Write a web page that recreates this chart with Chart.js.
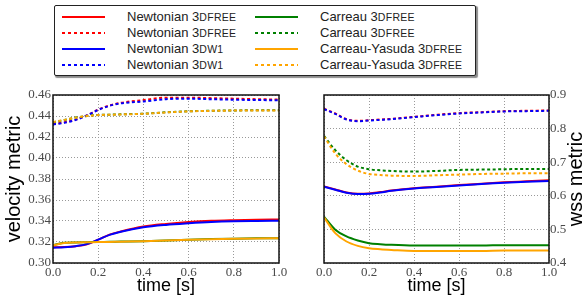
<!DOCTYPE html>
<html>
<head>
<meta charset="utf-8">
<script src="https://cdn.jsdelivr.net/npm/chart.js@4"></script>
<style>
  body { margin: 0; background: #fff; width: 582px; height: 300px; overflow: hidden; position: relative; font-family: "Liberation Sans", Arial, sans-serif; }
  #legend { position: absolute; left: 54px; top: 5px; width: 420px; height: 69px; border: 1.5px solid #222; border-radius: 2px; box-shadow: 1.5px 1.5px 1px rgba(0,0,0,0.45); background: #fff; }
  .item { position: absolute; font-size: 13px; color: #222; line-height: 16px; white-space: nowrap; }
  .swatch { position: absolute; height: 2px; width: 43px; }
  .sc { font-size: 10.5px; letter-spacing: 0.3px; }
  canvas { position: absolute; }
</style>
</head>
<body>
<div id="legend"></div>
<canvas id="velChart" width="290" height="215" style="left:0;top:85px"></canvas>
<canvas id="wssChart" width="290" height="215" style="left:292px;top:85px"></canvas>
<script>
// series labels (same order as the legend, column by column)
const seriesNames = [
  "Newtonian 3DFREE", "Newtonian 3DFREE", "Newtonian 3DW1", "Newtonian 3DW1",
  "Carreau 3DFREE", "Carreau 3DFREE", "Carreau-Yasuda 3DFREE", "Carreau-Yasuda 3DFREE"
];
const seriesColors = ["#ff0000", "#ff0000", "#0000ff", "#0000ff", "#008000", "#008000", "#ffa500", "#ffa500"];
const seriesDotted = [false, true, false, true, false, true, false, true];

const times = [0, 0.05, 0.1, 0.15, 0.2, 0.25, 0.3, 0.4, 0.5, 0.6, 0.7, 0.8, 0.9, 1.0];

// velocity metric
const velNewtFree    = [0.3150, 0.3152, 0.3160, 0.3178, 0.3222, 0.3270, 0.3300, 0.3347, 0.3372, 0.3390, 0.3402, 0.3408, 0.3412, 0.3414];
const velNewtFreeDot = [0.4325, 0.4340, 0.4365, 0.4406, 0.4460, 0.4500, 0.4525, 0.4552, 0.4575, 0.4575, 0.4570, 0.4565, 0.4560, 0.4557];
const velNewtDw1     = [0.3145, 0.3150, 0.3160, 0.3180, 0.3222, 0.3268, 0.3298, 0.3340, 0.3363, 0.3378, 0.3390, 0.3397, 0.3400, 0.3402];
const velNewtDw1Dot  = [0.4320, 0.4335, 0.4362, 0.4405, 0.4458, 0.4497, 0.4520, 0.4538, 0.4560, 0.4565, 0.4560, 0.4555, 0.4552, 0.4550];
const velCar         = [0.3170, 0.3192, 0.3196, 0.3198, 0.3200, 0.3202, 0.3204, 0.3208, 0.3215, 0.3222, 0.3228, 0.3232, 0.3235, 0.3236];
const velCarDot      = [0.4340, 0.4362, 0.4385, 0.4400, 0.4410, 0.4413, 0.4416, 0.4422, 0.4435, 0.4445, 0.4450, 0.4453, 0.4454, 0.4454];
const velCY          = [0.3168, 0.3190, 0.3195, 0.3197, 0.3199, 0.3201, 0.3203, 0.3207, 0.3214, 0.3221, 0.3227, 0.3231, 0.3234, 0.3235];
const velCYDot       = [0.4342, 0.4363, 0.4384, 0.4399, 0.4409, 0.4412, 0.4415, 0.4421, 0.4434, 0.4444, 0.4449, 0.4452, 0.4453, 0.4453];

// wss metric
const wssNewtFree    = [0.628, 0.619, 0.610, 0.606, 0.607, 0.611, 0.6155, 0.6225, 0.627, 0.632, 0.636, 0.640, 0.643, 0.646];
const wssNewtFreeDot = [0.859, 0.845, 0.828, 0.823, 0.825, 0.827, 0.829, 0.835, 0.841, 0.846, 0.849, 0.852, 0.853, 0.854];
const wssNewtDw1     = [0.627, 0.618, 0.609, 0.605, 0.606, 0.610, 0.615, 0.622, 0.626, 0.631, 0.635, 0.639, 0.642, 0.644];
const wssNewtDw1Dot  = [0.858, 0.844, 0.827, 0.822, 0.824, 0.826, 0.828, 0.834, 0.840, 0.845, 0.848, 0.851, 0.852, 0.853];
const wssCar         = [0.538, 0.499, 0.479, 0.467, 0.459, 0.456, 0.454, 0.452, 0.452, 0.452, 0.452, 0.453, 0.453, 0.453];
const wssCarDot      = [0.778, 0.736, 0.706, 0.687, 0.679, 0.676, 0.674, 0.672, 0.674, 0.677, 0.678, 0.679, 0.680, 0.680];
const wssCY          = [0.536, 0.489, 0.464, 0.451, 0.444, 0.441, 0.439, 0.436, 0.436, 0.436, 0.436, 0.437, 0.437, 0.437];
const wssCYDot       = [0.777, 0.726, 0.694, 0.675, 0.665, 0.662, 0.660, 0.659, 0.661, 0.663, 0.665, 0.666, 0.667, 0.667];

const timeTicks = [0, 0.2, 0.4, 0.6, 0.8, 1.0];
const velTicks = [0.30, 0.32, 0.34, 0.36, 0.38, 0.40, 0.42, 0.44, 0.46];
const wssTicks = [0.4, 0.5, 0.6, 0.7, 0.8, 0.9];

const velSeries = [velNewtFree, velNewtFreeDot, velNewtDw1, velNewtDw1Dot, velCar, velCarDot, velCY, velCYDot];
const wssSeries = [wssNewtFree, wssNewtFreeDot, wssNewtDw1, wssNewtDw1Dot, wssCar, wssCarDot, wssCY, wssCYDot];

// legend (html, so the small caps come out right)
const legend = document.getElementById("legend");
seriesNames.forEach((name, i) => {
  const col = Math.floor(i / 4), row = i % 4;
  const top = 2.5 + row * 16;
  const sw = document.createElement("span");
  sw.className = "swatch";
  sw.style.left = (col ? 200 : 7) + "px";
  sw.style.top = (top + 7) + "px";
  sw.style.background = seriesDotted[i]
    ? "repeating-linear-gradient(90deg," + seriesColors[i] + " 0 3px, transparent 3px 6px)"
    : seriesColors[i];
  legend.appendChild(sw);
  const txt = document.createElement("span");
  txt.className = "item";
  txt.style.left = (col ? 265 : 72) + "px";
  txt.style.top = top + "px";
  txt.innerHTML = name.replace(/3(D\w+)/, (m, p) => '3<span class="sc">' + p + "</span>");
  legend.appendChild(txt);
});

const tickFont = { family: "Liberation Serif", size: 13 };
const tickColor = "#4a4a4a";

const frame = {
  id: "frame",
  afterDatasetsDraw(chart) {
    const { ctx, chartArea: a } = chart;
    ctx.save();
    ctx.strokeStyle = "#111";
    ctx.lineWidth = 1.5;
    ctx.strokeRect(a.left, a.top, a.right - a.left, a.bottom - a.top);
    ctx.restore();
  }
};

function makeDatasets(series) {
  return series.map((vals, i) => ({
    label: seriesNames[i],
    data: times.map((t, j) => ({ x: t, y: vals[j] })),
    borderColor: seriesColors[i],
    backgroundColor: seriesColors[i],
    borderWidth: 2,
    borderDash: seriesDotted[i] ? [3, 2.5] : [],
    pointRadius: 0,
    cubicInterpolationMode: "monotone",
    order: series.length - i
  }));
}

function xScale() {
  return {
    type: "linear", min: 0, max: 1,
    afterBuildTicks: s => { s.ticks = timeTicks.map(v => ({ value: v })); },
    afterFit: s => { s.height = 37; },
    ticks: { callback: v => v.toFixed(1), font: tickFont, color: tickColor, padding: 2, maxRotation: 0, autoSkip: false },
    grid: { color: "#999", lineWidth: 1, drawTicks: false },
    border: { display: false, dash: [1, 2] },
    title: { display: true, text: "time [s]", color: "#000", font: { family: "Liberation Sans", size: 18 }, padding: { top: 0, bottom: 3 } }
  };
}

new Chart(document.getElementById("velChart"), {
  type: "line",
  data: { datasets: makeDatasets(velSeries) },
  options: {
    responsive: false, animation: false,
    layout: { padding: { top: 10, right: 11, left: 0, bottom: 0 } },
    plugins: { legend: { display: false }, tooltip: { enabled: false } },
    scales: {
      x: xScale(),
      y: {
        min: 0.30, max: 0.46, position: "left",
        afterBuildTicks: s => { s.ticks = velTicks.map(v => ({ value: v })); },
        afterFit: s => { s.width = 53; },
        ticks: { callback: v => v.toFixed(2), font: tickFont, color: tickColor, padding: 2 },
        grid: { color: "#999", lineWidth: 1, drawTicks: false },
        border: { display: false, dash: [1, 2] },
        title: { display: true, text: "velocity metric", color: "#000", font: { family: "Liberation Sans", size: 20 }, padding: { top: 2, bottom: 0 } }
      }
    }
  },
  plugins: [frame]
});

// right hand title reads bottom-to-top like the left one
const wssTitle = {
  id: "wssTitle",
  afterDraw(chart) {
    const { ctx, chartArea: a } = chart;
    ctx.save();
    ctx.translate(284, (a.top + a.bottom) / 2);
    ctx.rotate(-Math.PI / 2);
    ctx.font = '20px "Liberation Sans"';
    ctx.fillStyle = "#000";
    ctx.textAlign = "center";
    ctx.textBaseline = "middle";
    ctx.fillText("wss metric", 0, 0);
    ctx.restore();
  }
};

new Chart(document.getElementById("wssChart"), {
  type: "line",
  data: { datasets: makeDatasets(wssSeries) },
  options: {
    responsive: false, animation: false,
    layout: { padding: { top: 10, right: 0, left: 32, bottom: 0 } },
    plugins: { legend: { display: false }, tooltip: { enabled: false } },
    scales: {
      x: xScale(),
      y: {
        min: 0.4, max: 0.9, position: "right",
        afterBuildTicks: s => { s.ticks = wssTicks.map(v => ({ value: v })); },
        afterFit: s => { s.width = 33; },
        ticks: { callback: v => v.toFixed(1), font: tickFont, color: tickColor, padding: 1 },
        grid: { color: "#999", lineWidth: 1, drawTicks: false },
        border: { display: false, dash: [1, 2] }
      }
    }
  },
  plugins: [frame, wssTitle]
});
</script>
</body>
</html>
